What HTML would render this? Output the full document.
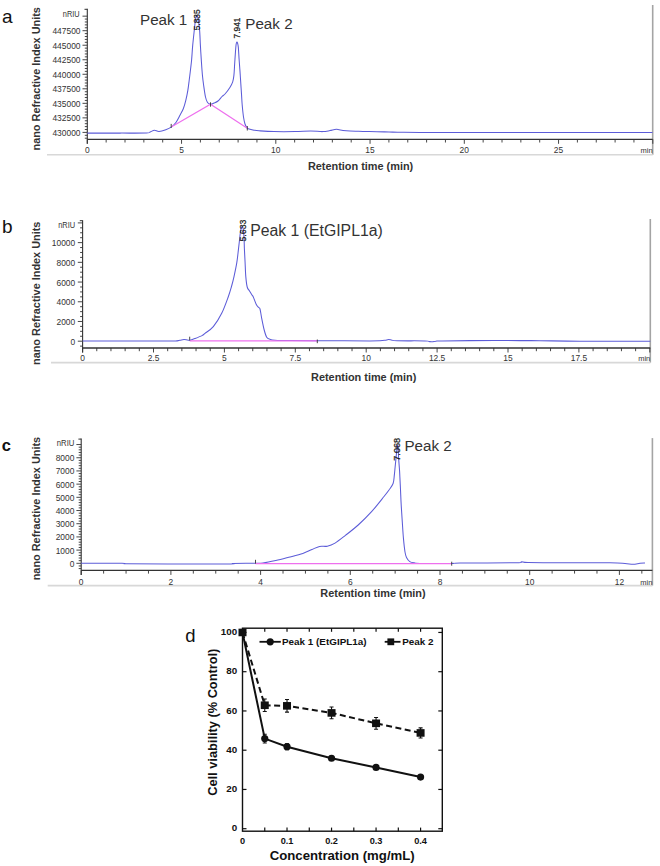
<!DOCTYPE html>
<html><head><meta charset="utf-8"><style>
html,body{margin:0;padding:0;background:#fff;}
svg{display:block;}
text{font-family:"Liberation Sans", sans-serif;}
</style></head><body>
<svg width="660" height="866" viewBox="0 0 660 866">
<rect width="660" height="866" fill="#fff"/>
<line x1="652.7" y1="5" x2="652.7" y2="154.8" stroke="#a4a4a4" stroke-width="1.6"/>
<line x1="47" y1="154.8" x2="652.7" y2="154.8" stroke="#d8d8d8" stroke-width="1.6"/>
<line x1="87.3" y1="8.8" x2="87.3" y2="143.8" stroke="#333" stroke-width="1.1"/>
<line x1="84.5" y1="9.3" x2="87.3" y2="9.3" stroke="#333" stroke-width="1"/>
<line x1="84.8" y1="138.21" x2="87.3" y2="138.21" stroke="#333" stroke-width="0.9"/>
<line x1="84.8" y1="135.31" x2="87.3" y2="135.31" stroke="#333" stroke-width="0.9"/>
<line x1="82.5" y1="132.4" x2="87.3" y2="132.4" stroke="#333" stroke-width="0.9"/>
<line x1="84.8" y1="129.49" x2="87.3" y2="129.49" stroke="#333" stroke-width="0.9"/>
<line x1="84.8" y1="126.59" x2="87.3" y2="126.59" stroke="#333" stroke-width="0.9"/>
<line x1="84.8" y1="123.68" x2="87.3" y2="123.68" stroke="#333" stroke-width="0.9"/>
<line x1="84.8" y1="120.78" x2="87.3" y2="120.78" stroke="#333" stroke-width="0.9"/>
<line x1="82.5" y1="117.87" x2="87.3" y2="117.87" stroke="#333" stroke-width="0.9"/>
<line x1="84.8" y1="114.96" x2="87.3" y2="114.96" stroke="#333" stroke-width="0.9"/>
<line x1="84.8" y1="112.06" x2="87.3" y2="112.06" stroke="#333" stroke-width="0.9"/>
<line x1="84.8" y1="109.15" x2="87.3" y2="109.15" stroke="#333" stroke-width="0.9"/>
<line x1="84.8" y1="106.25" x2="87.3" y2="106.25" stroke="#333" stroke-width="0.9"/>
<line x1="82.5" y1="103.34" x2="87.3" y2="103.34" stroke="#333" stroke-width="0.9"/>
<line x1="84.8" y1="100.43" x2="87.3" y2="100.43" stroke="#333" stroke-width="0.9"/>
<line x1="84.8" y1="97.53" x2="87.3" y2="97.53" stroke="#333" stroke-width="0.9"/>
<line x1="84.8" y1="94.62" x2="87.3" y2="94.62" stroke="#333" stroke-width="0.9"/>
<line x1="84.8" y1="91.72" x2="87.3" y2="91.72" stroke="#333" stroke-width="0.9"/>
<line x1="82.5" y1="88.81" x2="87.3" y2="88.81" stroke="#333" stroke-width="0.9"/>
<line x1="84.8" y1="85.9" x2="87.3" y2="85.9" stroke="#333" stroke-width="0.9"/>
<line x1="84.8" y1="83" x2="87.3" y2="83" stroke="#333" stroke-width="0.9"/>
<line x1="84.8" y1="80.09" x2="87.3" y2="80.09" stroke="#333" stroke-width="0.9"/>
<line x1="84.8" y1="77.19" x2="87.3" y2="77.19" stroke="#333" stroke-width="0.9"/>
<line x1="82.5" y1="74.28" x2="87.3" y2="74.28" stroke="#333" stroke-width="0.9"/>
<line x1="84.8" y1="71.37" x2="87.3" y2="71.37" stroke="#333" stroke-width="0.9"/>
<line x1="84.8" y1="68.47" x2="87.3" y2="68.47" stroke="#333" stroke-width="0.9"/>
<line x1="84.8" y1="65.56" x2="87.3" y2="65.56" stroke="#333" stroke-width="0.9"/>
<line x1="84.8" y1="62.66" x2="87.3" y2="62.66" stroke="#333" stroke-width="0.9"/>
<line x1="82.5" y1="59.75" x2="87.3" y2="59.75" stroke="#333" stroke-width="0.9"/>
<line x1="84.8" y1="56.84" x2="87.3" y2="56.84" stroke="#333" stroke-width="0.9"/>
<line x1="84.8" y1="53.94" x2="87.3" y2="53.94" stroke="#333" stroke-width="0.9"/>
<line x1="84.8" y1="51.03" x2="87.3" y2="51.03" stroke="#333" stroke-width="0.9"/>
<line x1="84.8" y1="48.13" x2="87.3" y2="48.13" stroke="#333" stroke-width="0.9"/>
<line x1="82.5" y1="45.22" x2="87.3" y2="45.22" stroke="#333" stroke-width="0.9"/>
<line x1="84.8" y1="42.31" x2="87.3" y2="42.31" stroke="#333" stroke-width="0.9"/>
<line x1="84.8" y1="39.41" x2="87.3" y2="39.41" stroke="#333" stroke-width="0.9"/>
<line x1="84.8" y1="36.5" x2="87.3" y2="36.5" stroke="#333" stroke-width="0.9"/>
<line x1="84.8" y1="33.6" x2="87.3" y2="33.6" stroke="#333" stroke-width="0.9"/>
<line x1="82.5" y1="30.69" x2="87.3" y2="30.69" stroke="#333" stroke-width="0.9"/>
<line x1="84.8" y1="27.78" x2="87.3" y2="27.78" stroke="#333" stroke-width="0.9"/>
<line x1="84.8" y1="24.88" x2="87.3" y2="24.88" stroke="#333" stroke-width="0.9"/>
<line x1="84.8" y1="21.97" x2="87.3" y2="21.97" stroke="#333" stroke-width="0.9"/>
<line x1="84.8" y1="19.07" x2="87.3" y2="19.07" stroke="#333" stroke-width="0.9"/>
<line x1="82.5" y1="16.16" x2="87.3" y2="16.16" stroke="#333" stroke-width="0.9"/>
<text transform="translate(80.5,135.9) scale(0.86,1)" text-anchor="end" font-size="9.8" fill="#333">430000</text>
<text transform="translate(80.5,121.37) scale(0.86,1)" text-anchor="end" font-size="9.8" fill="#333">432500</text>
<text transform="translate(80.5,106.84) scale(0.86,1)" text-anchor="end" font-size="9.8" fill="#333">435000</text>
<text transform="translate(80.5,92.31) scale(0.86,1)" text-anchor="end" font-size="9.8" fill="#333">437500</text>
<text transform="translate(80.5,77.78) scale(0.86,1)" text-anchor="end" font-size="9.8" fill="#333">440000</text>
<text transform="translate(80.5,63.25) scale(0.86,1)" text-anchor="end" font-size="9.8" fill="#333">442500</text>
<text transform="translate(80.5,48.72) scale(0.86,1)" text-anchor="end" font-size="9.8" fill="#333">445000</text>
<text transform="translate(80.5,34.19) scale(0.86,1)" text-anchor="end" font-size="9.8" fill="#333">447500</text>
<text x="79.6" y="16.6" text-anchor="end" font-size="8.6" fill="#333" textLength="16.8" lengthAdjust="spacingAndGlyphs">nRIU</text>
<line x1="87.3" y1="139.3" x2="652.7" y2="139.3" stroke="#333" stroke-width="1.3"/>
<line x1="87.3" y1="139.3" x2="87.3" y2="143.8" stroke="#333" stroke-width="0.9"/>
<line x1="106.15" y1="139.3" x2="106.15" y2="142.5" stroke="#333" stroke-width="0.9"/>
<line x1="125" y1="139.3" x2="125" y2="142.5" stroke="#333" stroke-width="0.9"/>
<line x1="143.85" y1="139.3" x2="143.85" y2="142.5" stroke="#333" stroke-width="0.9"/>
<line x1="162.7" y1="139.3" x2="162.7" y2="142.5" stroke="#333" stroke-width="0.9"/>
<line x1="181.55" y1="139.3" x2="181.55" y2="143.8" stroke="#333" stroke-width="0.9"/>
<line x1="200.4" y1="139.3" x2="200.4" y2="142.5" stroke="#333" stroke-width="0.9"/>
<line x1="219.25" y1="139.3" x2="219.25" y2="142.5" stroke="#333" stroke-width="0.9"/>
<line x1="238.1" y1="139.3" x2="238.1" y2="142.5" stroke="#333" stroke-width="0.9"/>
<line x1="256.95" y1="139.3" x2="256.95" y2="142.5" stroke="#333" stroke-width="0.9"/>
<line x1="275.8" y1="139.3" x2="275.8" y2="143.8" stroke="#333" stroke-width="0.9"/>
<line x1="294.65" y1="139.3" x2="294.65" y2="142.5" stroke="#333" stroke-width="0.9"/>
<line x1="313.5" y1="139.3" x2="313.5" y2="142.5" stroke="#333" stroke-width="0.9"/>
<line x1="332.35" y1="139.3" x2="332.35" y2="142.5" stroke="#333" stroke-width="0.9"/>
<line x1="351.2" y1="139.3" x2="351.2" y2="142.5" stroke="#333" stroke-width="0.9"/>
<line x1="370.05" y1="139.3" x2="370.05" y2="143.8" stroke="#333" stroke-width="0.9"/>
<line x1="388.9" y1="139.3" x2="388.9" y2="142.5" stroke="#333" stroke-width="0.9"/>
<line x1="407.75" y1="139.3" x2="407.75" y2="142.5" stroke="#333" stroke-width="0.9"/>
<line x1="426.6" y1="139.3" x2="426.6" y2="142.5" stroke="#333" stroke-width="0.9"/>
<line x1="445.45" y1="139.3" x2="445.45" y2="142.5" stroke="#333" stroke-width="0.9"/>
<line x1="464.3" y1="139.3" x2="464.3" y2="143.8" stroke="#333" stroke-width="0.9"/>
<line x1="483.15" y1="139.3" x2="483.15" y2="142.5" stroke="#333" stroke-width="0.9"/>
<line x1="502" y1="139.3" x2="502" y2="142.5" stroke="#333" stroke-width="0.9"/>
<line x1="520.85" y1="139.3" x2="520.85" y2="142.5" stroke="#333" stroke-width="0.9"/>
<line x1="539.7" y1="139.3" x2="539.7" y2="142.5" stroke="#333" stroke-width="0.9"/>
<line x1="558.55" y1="139.3" x2="558.55" y2="143.8" stroke="#333" stroke-width="0.9"/>
<line x1="577.4" y1="139.3" x2="577.4" y2="142.5" stroke="#333" stroke-width="0.9"/>
<line x1="596.25" y1="139.3" x2="596.25" y2="142.5" stroke="#333" stroke-width="0.9"/>
<line x1="615.1" y1="139.3" x2="615.1" y2="142.5" stroke="#333" stroke-width="0.9"/>
<line x1="633.95" y1="139.3" x2="633.95" y2="142.5" stroke="#333" stroke-width="0.9"/>
<line x1="652.8" y1="139.3" x2="652.8" y2="143.8" stroke="#333" stroke-width="0.9"/>
<text transform="translate(87.3,152.8) scale(0.86,1)" text-anchor="middle" font-size="9.8" fill="#333">0</text>
<text transform="translate(181.55,152.8) scale(0.86,1)" text-anchor="middle" font-size="9.8" fill="#333">5</text>
<text transform="translate(275.8,152.8) scale(0.86,1)" text-anchor="middle" font-size="9.8" fill="#333">10</text>
<text transform="translate(370.05,152.8) scale(0.86,1)" text-anchor="middle" font-size="9.8" fill="#333">15</text>
<text transform="translate(464.3,152.8) scale(0.86,1)" text-anchor="middle" font-size="9.8" fill="#333">20</text>
<text transform="translate(558.55,152.8) scale(0.86,1)" text-anchor="middle" font-size="9.8" fill="#333">25</text>
<text x="652.7" y="152.8" text-anchor="end" font-size="7.5" fill="#333">min</text>
<text transform="translate(40.3,78.8) rotate(-90)" text-anchor="middle" font-size="10.9" font-weight="bold" fill="#333">nano Refractive Index Units</text>
<text x="360.6" y="169.8" text-anchor="middle" font-size="10.9" font-weight="bold" fill="#333">Retention time (min)</text>
<text x="2" y="22.5" font-size="19" font-weight="normal" fill="#111">a</text>
<path d="M87.3,133.1 C92.75,133.1 110.13,133.12 120,133.1 C129.87,133.08 141.42,133.22 146.5,133 C151.58,132.78 149.18,132.27 150.5,131.8 C151.82,131.33 152.98,130.27 154.4,130.2 C155.82,130.13 157.1,131.48 159,131.4 C160.9,131.32 163.77,130.42 165.8,129.7 C167.83,128.98 169.48,128.35 171.2,127.1 C172.92,125.85 174.62,124.22 176.1,122.2 C177.58,120.18 178.88,117.28 180.1,115 C181.32,112.72 182.45,110.93 183.4,108.5 C184.35,106.07 185.07,103.37 185.8,100.4 C186.53,97.43 187.23,94.07 187.8,90.7 C188.37,87.33 188.75,83.7 189.2,80.2 C189.65,76.7 190.1,73.07 190.5,69.7 C190.9,66.33 191.23,64.05 191.6,60 C191.97,55.95 192.25,50.38 192.7,45.4 C193.15,40.42 193.85,34.25 194.3,30.1 C194.75,25.95 194.98,22.93 195.4,20.5 C195.82,18.07 196.33,15.67 196.8,15.5 C197.27,15.33 197.73,17.07 198.2,19.5 C198.67,21.93 199.23,25.78 199.6,30.1 C199.97,34.42 200.1,40.15 200.4,45.4 C200.7,50.65 201.07,56.67 201.4,61.6 C201.73,66.53 202.03,71.1 202.4,75 C202.77,78.9 203.08,81.33 203.6,85 C204.12,88.67 204.85,94.08 205.5,97 C206.15,99.92 206.67,101.3 207.5,102.5 C208.33,103.7 209.42,104.12 210.5,104.2 C211.58,104.28 212.75,103.53 214,103 C215.25,102.47 216.67,102.08 218,101 C219.33,99.92 220.83,97.67 222,96.5 C223.17,95.33 223.68,95.5 225,94 C226.32,92.5 228.62,89.52 229.9,87.5 C231.18,85.48 232.03,83.92 232.7,81.9 C233.37,79.88 233.57,78.5 233.9,75.4 C234.23,72.3 234.43,67.33 234.7,63.3 C234.97,59.27 235.27,54.33 235.5,51.2 C235.73,48.07 235.88,46.03 236.1,44.5 C236.32,42.97 236.57,42.25 236.8,42 C237.03,41.75 237.25,42.15 237.5,43 C237.75,43.85 238.03,44.38 238.3,47.1 C238.57,49.82 238.82,55.25 239.1,59.3 C239.38,63.35 239.72,67.37 240,71.4 C240.28,75.43 240.53,79.47 240.8,83.5 C241.07,87.53 241.37,92.02 241.6,95.6 C241.83,99.18 241.88,101.43 242.2,105 C242.52,108.57 243.03,113.83 243.5,117 C243.97,120.17 244.37,122.13 245,124 C245.63,125.87 246.47,127.32 247.3,128.2 C248.13,129.08 248.88,128.97 250,129.3 C251.12,129.63 252.5,129.95 254,130.2 C255.5,130.45 255.67,130.57 259,130.8 C262.33,131.03 268,131.47 274,131.6 C280,131.73 288.9,131.7 295,131.6 C301.1,131.5 305.98,131 310.6,131 C315.22,131 319.47,131.67 322.7,131.6 C325.93,131.53 327.72,130.98 330,130.6 C332.28,130.22 334.23,129.32 336.4,129.3 C338.57,129.28 340.73,130.2 343,130.5 C345.27,130.8 346.67,130.95 350,131.1 C353.33,131.25 358.5,131.3 363,131.4 C367.5,131.5 372.67,131.6 377,131.7 C381.33,131.8 384.92,131.9 389,132 C393.08,132.1 396.33,132.23 401.5,132.3 C406.67,132.37 403.58,132.38 420,132.4 C436.42,132.42 461.25,132.4 500,132.4 C538.75,132.4 627.08,132.4 652.5,132.4" fill="none" stroke="#5c5cd8" stroke-width="1.05" stroke-linejoin="round"/>
<polyline points="171.2,127.1 210.5,104.3 247.3,128.3" fill="none" stroke="#ee70ee" stroke-width="1.2"/>
<line x1="171.2" y1="123.9" x2="171.2" y2="127.9" stroke="#333" stroke-width="0.9"/>
<line x1="210.5" y1="102.3" x2="210.5" y2="106.7" stroke="#333" stroke-width="0.9"/>
<line x1="247.3" y1="126" x2="247.3" y2="130.5" stroke="#333" stroke-width="0.9"/>
<text transform="translate(199.6,30.3) rotate(-90)" font-size="8.4" fill="#1a1a1a" stroke="#1a1a1a" stroke-width="0.25">5.835</text>
<text transform="translate(240.2,38.5) rotate(-90)" font-size="8.4" fill="#1a1a1a" stroke="#1a1a1a" stroke-width="0.25">7.941</text>
<text x="140" y="25" font-size="15.2" fill="#333">Peak 1</text>
<text x="245.3" y="29" font-size="15.2" fill="#333">Peak 2</text>
<line x1="650.3" y1="219" x2="650.3" y2="362.6" stroke="#a4a4a4" stroke-width="1.6"/>
<line x1="51" y1="362.6" x2="650.3" y2="362.6" stroke="#d8d8d8" stroke-width="1.6"/>
<line x1="82.6" y1="220.2" x2="82.6" y2="352.5" stroke="#333" stroke-width="1.1"/>
<line x1="79.8" y1="220.7" x2="82.6" y2="220.7" stroke="#333" stroke-width="1"/>
<line x1="80.1" y1="346.13" x2="82.6" y2="346.13" stroke="#333" stroke-width="0.9"/>
<line x1="77.8" y1="341.2" x2="82.6" y2="341.2" stroke="#333" stroke-width="0.9"/>
<line x1="80.1" y1="336.27" x2="82.6" y2="336.27" stroke="#333" stroke-width="0.9"/>
<line x1="80.1" y1="331.34" x2="82.6" y2="331.34" stroke="#333" stroke-width="0.9"/>
<line x1="80.1" y1="326.41" x2="82.6" y2="326.41" stroke="#333" stroke-width="0.9"/>
<line x1="77.8" y1="321.48" x2="82.6" y2="321.48" stroke="#333" stroke-width="0.9"/>
<line x1="80.1" y1="316.56" x2="82.6" y2="316.56" stroke="#333" stroke-width="0.9"/>
<line x1="80.1" y1="311.63" x2="82.6" y2="311.63" stroke="#333" stroke-width="0.9"/>
<line x1="80.1" y1="306.7" x2="82.6" y2="306.7" stroke="#333" stroke-width="0.9"/>
<line x1="77.8" y1="301.77" x2="82.6" y2="301.77" stroke="#333" stroke-width="0.9"/>
<line x1="80.1" y1="296.84" x2="82.6" y2="296.84" stroke="#333" stroke-width="0.9"/>
<line x1="80.1" y1="291.91" x2="82.6" y2="291.91" stroke="#333" stroke-width="0.9"/>
<line x1="80.1" y1="286.98" x2="82.6" y2="286.98" stroke="#333" stroke-width="0.9"/>
<line x1="77.8" y1="282.05" x2="82.6" y2="282.05" stroke="#333" stroke-width="0.9"/>
<line x1="80.1" y1="277.12" x2="82.6" y2="277.12" stroke="#333" stroke-width="0.9"/>
<line x1="80.1" y1="272.19" x2="82.6" y2="272.19" stroke="#333" stroke-width="0.9"/>
<line x1="80.1" y1="267.26" x2="82.6" y2="267.26" stroke="#333" stroke-width="0.9"/>
<line x1="77.8" y1="262.34" x2="82.6" y2="262.34" stroke="#333" stroke-width="0.9"/>
<line x1="80.1" y1="257.41" x2="82.6" y2="257.41" stroke="#333" stroke-width="0.9"/>
<line x1="80.1" y1="252.48" x2="82.6" y2="252.48" stroke="#333" stroke-width="0.9"/>
<line x1="80.1" y1="247.55" x2="82.6" y2="247.55" stroke="#333" stroke-width="0.9"/>
<line x1="77.8" y1="242.62" x2="82.6" y2="242.62" stroke="#333" stroke-width="0.9"/>
<line x1="80.1" y1="237.69" x2="82.6" y2="237.69" stroke="#333" stroke-width="0.9"/>
<line x1="80.1" y1="232.76" x2="82.6" y2="232.76" stroke="#333" stroke-width="0.9"/>
<line x1="80.1" y1="227.83" x2="82.6" y2="227.83" stroke="#333" stroke-width="0.9"/>
<line x1="77.8" y1="222.9" x2="82.6" y2="222.9" stroke="#333" stroke-width="0.9"/>
<text transform="translate(75.2,344.7) scale(0.86,1)" text-anchor="end" font-size="9.8" fill="#333">0</text>
<text transform="translate(75.2,324.98) scale(0.86,1)" text-anchor="end" font-size="9.8" fill="#333">2000</text>
<text transform="translate(75.2,305.27) scale(0.86,1)" text-anchor="end" font-size="9.8" fill="#333">4000</text>
<text transform="translate(75.2,285.55) scale(0.86,1)" text-anchor="end" font-size="9.8" fill="#333">6000</text>
<text transform="translate(75.2,265.84) scale(0.86,1)" text-anchor="end" font-size="9.8" fill="#333">8000</text>
<text transform="translate(75.2,246.12) scale(0.86,1)" text-anchor="end" font-size="9.8" fill="#333">10000</text>
<text x="75.2" y="227.9" text-anchor="end" font-size="8.6" fill="#333" textLength="17" lengthAdjust="spacingAndGlyphs">nRIU</text>
<line x1="82.6" y1="348" x2="650.3" y2="348" stroke="#333" stroke-width="1.3"/>
<line x1="82.6" y1="348" x2="82.6" y2="352.5" stroke="#333" stroke-width="0.9"/>
<line x1="96.78" y1="348" x2="96.78" y2="351.2" stroke="#333" stroke-width="0.9"/>
<line x1="110.96" y1="348" x2="110.96" y2="351.2" stroke="#333" stroke-width="0.9"/>
<line x1="125.14" y1="348" x2="125.14" y2="351.2" stroke="#333" stroke-width="0.9"/>
<line x1="139.32" y1="348" x2="139.32" y2="351.2" stroke="#333" stroke-width="0.9"/>
<line x1="153.5" y1="348" x2="153.5" y2="352.5" stroke="#333" stroke-width="0.9"/>
<line x1="167.68" y1="348" x2="167.68" y2="351.2" stroke="#333" stroke-width="0.9"/>
<line x1="181.86" y1="348" x2="181.86" y2="351.2" stroke="#333" stroke-width="0.9"/>
<line x1="196.04" y1="348" x2="196.04" y2="351.2" stroke="#333" stroke-width="0.9"/>
<line x1="210.22" y1="348" x2="210.22" y2="351.2" stroke="#333" stroke-width="0.9"/>
<line x1="224.4" y1="348" x2="224.4" y2="352.5" stroke="#333" stroke-width="0.9"/>
<line x1="238.58" y1="348" x2="238.58" y2="351.2" stroke="#333" stroke-width="0.9"/>
<line x1="252.76" y1="348" x2="252.76" y2="351.2" stroke="#333" stroke-width="0.9"/>
<line x1="266.94" y1="348" x2="266.94" y2="351.2" stroke="#333" stroke-width="0.9"/>
<line x1="281.12" y1="348" x2="281.12" y2="351.2" stroke="#333" stroke-width="0.9"/>
<line x1="295.3" y1="348" x2="295.3" y2="352.5" stroke="#333" stroke-width="0.9"/>
<line x1="309.48" y1="348" x2="309.48" y2="351.2" stroke="#333" stroke-width="0.9"/>
<line x1="323.66" y1="348" x2="323.66" y2="351.2" stroke="#333" stroke-width="0.9"/>
<line x1="337.84" y1="348" x2="337.84" y2="351.2" stroke="#333" stroke-width="0.9"/>
<line x1="352.02" y1="348" x2="352.02" y2="351.2" stroke="#333" stroke-width="0.9"/>
<line x1="366.2" y1="348" x2="366.2" y2="352.5" stroke="#333" stroke-width="0.9"/>
<line x1="380.38" y1="348" x2="380.38" y2="351.2" stroke="#333" stroke-width="0.9"/>
<line x1="394.56" y1="348" x2="394.56" y2="351.2" stroke="#333" stroke-width="0.9"/>
<line x1="408.74" y1="348" x2="408.74" y2="351.2" stroke="#333" stroke-width="0.9"/>
<line x1="422.92" y1="348" x2="422.92" y2="351.2" stroke="#333" stroke-width="0.9"/>
<line x1="437.1" y1="348" x2="437.1" y2="352.5" stroke="#333" stroke-width="0.9"/>
<line x1="451.28" y1="348" x2="451.28" y2="351.2" stroke="#333" stroke-width="0.9"/>
<line x1="465.46" y1="348" x2="465.46" y2="351.2" stroke="#333" stroke-width="0.9"/>
<line x1="479.64" y1="348" x2="479.64" y2="351.2" stroke="#333" stroke-width="0.9"/>
<line x1="493.82" y1="348" x2="493.82" y2="351.2" stroke="#333" stroke-width="0.9"/>
<line x1="508" y1="348" x2="508" y2="352.5" stroke="#333" stroke-width="0.9"/>
<line x1="522.18" y1="348" x2="522.18" y2="351.2" stroke="#333" stroke-width="0.9"/>
<line x1="536.36" y1="348" x2="536.36" y2="351.2" stroke="#333" stroke-width="0.9"/>
<line x1="550.54" y1="348" x2="550.54" y2="351.2" stroke="#333" stroke-width="0.9"/>
<line x1="564.72" y1="348" x2="564.72" y2="351.2" stroke="#333" stroke-width="0.9"/>
<line x1="578.9" y1="348" x2="578.9" y2="352.5" stroke="#333" stroke-width="0.9"/>
<line x1="593.08" y1="348" x2="593.08" y2="351.2" stroke="#333" stroke-width="0.9"/>
<line x1="607.26" y1="348" x2="607.26" y2="351.2" stroke="#333" stroke-width="0.9"/>
<line x1="621.44" y1="348" x2="621.44" y2="351.2" stroke="#333" stroke-width="0.9"/>
<line x1="635.62" y1="348" x2="635.62" y2="351.2" stroke="#333" stroke-width="0.9"/>
<line x1="649.8" y1="348" x2="649.8" y2="352.5" stroke="#333" stroke-width="0.9"/>
<text transform="translate(82.6,361) scale(0.86,1)" text-anchor="middle" font-size="9.8" fill="#333">0</text>
<text transform="translate(153.5,361) scale(0.86,1)" text-anchor="middle" font-size="9.8" fill="#333">2.5</text>
<text transform="translate(224.4,361) scale(0.86,1)" text-anchor="middle" font-size="9.8" fill="#333">5</text>
<text transform="translate(295.3,361) scale(0.86,1)" text-anchor="middle" font-size="9.8" fill="#333">7.5</text>
<text transform="translate(366.2,361) scale(0.86,1)" text-anchor="middle" font-size="9.8" fill="#333">10</text>
<text transform="translate(437.1,361) scale(0.86,1)" text-anchor="middle" font-size="9.8" fill="#333">12.5</text>
<text transform="translate(508,361) scale(0.86,1)" text-anchor="middle" font-size="9.8" fill="#333">15</text>
<text transform="translate(578.9,361) scale(0.86,1)" text-anchor="middle" font-size="9.8" fill="#333">17.5</text>
<text x="650.3" y="361" text-anchor="end" font-size="7.5" fill="#333">min</text>
<text transform="translate(39.8,293.3) rotate(-90)" text-anchor="middle" font-size="10.9" font-weight="bold" fill="#333">nano Refractive Index Units</text>
<text x="363.7" y="380.5" text-anchor="middle" font-size="10.9" font-weight="bold" fill="#333">Retention time (min)</text>
<text x="2" y="232.7" font-size="19" font-weight="normal" fill="#111">b</text>
<path d="M82.6,341 C97.17,341 154.5,341.02 170,341 C185.5,340.98 173.93,341.03 175.6,340.9 C177.27,340.77 178.6,340.43 180,340.2 C181.4,339.97 182.75,339.53 184,339.5 C185.25,339.47 186.5,339.88 187.5,340 C188.5,340.12 188.8,340.43 190,340.2 C191.2,339.97 192.7,339.37 194.7,338.6 C196.7,337.83 200.28,336.47 202,335.6 C203.72,334.73 203.12,334.88 205,333.4 C206.88,331.92 210.52,330.05 213.3,326.7 C216.08,323.35 219.2,318.3 221.7,313.3 C224.2,308.3 226.67,301.17 228.3,296.7 C229.93,292.23 230.55,289.85 231.5,286.5 C232.45,283.15 233.12,280.57 234,276.6 C234.88,272.63 236.05,267.32 236.8,262.7 C237.55,258.08 238.03,252.82 238.5,248.9 C238.97,244.98 239.25,242.18 239.6,239.2 C239.95,236.22 240.2,233.07 240.6,231 C241,228.93 241.53,226.97 242,226.8 C242.47,226.63 243.05,227.93 243.4,230 C243.75,232.07 243.93,236.05 244.1,239.2 C244.27,242.35 244.23,244.98 244.4,248.9 C244.57,252.82 244.87,258.08 245.1,262.7 C245.33,267.32 245.45,272.55 245.8,276.6 C246.15,280.65 246.58,284.6 247.2,287 C247.82,289.4 248.7,289.67 249.5,291 C250.3,292.33 251.37,294 252,295 C252.63,296 252.58,295.42 253.3,297 C254.02,298.58 255.43,302.75 256.3,304.5 C257.17,306.25 257.88,306.75 258.5,307.5 C259.12,308.25 259.47,307.2 260,309 C260.53,310.8 261,314.8 261.7,318.3 C262.4,321.8 263.37,326.85 264.2,330 C265.03,333.15 265.73,335.65 266.7,337.2 C267.67,338.75 268.62,338.8 270,339.3 C271.38,339.8 271.67,339.98 275,340.2 C278.33,340.42 280.83,340.5 290,340.6 C299.17,340.7 316.67,340.75 330,340.8 C343.33,340.85 361.67,340.9 370,340.9 C378.33,340.9 377.5,340.9 380,340.8 C382.5,340.7 383.57,340.52 385,340.3 C386.43,340.08 387.43,339.52 388.6,339.5 C389.77,339.48 390.6,339.98 392,340.2 C393.4,340.42 391.5,340.68 397,340.8 C402.5,340.92 419.67,340.78 425,340.9 C430.33,341.02 427.8,341.35 429,341.5 C430.2,341.65 431.03,341.85 432.2,341.8 C433.37,341.75 434.37,341.35 436,341.2 C437.63,341.05 436.33,341 442,340.9 C447.67,340.8 457,340.65 470,340.6 C483,340.55 508.33,340.58 520,340.6 C531.67,340.62 530,340.6 540,340.7 C550,340.8 561.62,341.1 580,341.2 C598.38,341.3 638.58,341.28 650.3,341.3" fill="none" stroke="#5c5cd8" stroke-width="1.05" stroke-linejoin="round"/>
<polyline points="189.7,340.8 317.3,340.8" fill="none" stroke="#ee70ee" stroke-width="1.2"/>
<line x1="189.7" y1="336.7" x2="189.7" y2="340.5" stroke="#333" stroke-width="0.9"/>
<line x1="317.3" y1="339.5" x2="317.3" y2="343.2" stroke="#333" stroke-width="0.9"/>
<text transform="translate(246.3,241.6) rotate(-90)" font-size="8.8" fill="#1a1a1a" stroke="#1a1a1a" stroke-width="0.25">5.633</text>
<text x="250.2" y="235.6" font-size="15.8" fill="#333">Peak 1 (EtGIPL1a)</text>
<line x1="652.4" y1="438.1" x2="652.4" y2="585.6" stroke="#a4a4a4" stroke-width="1.6"/>
<line x1="47.7" y1="585.6" x2="652.4" y2="585.6" stroke="#d8d8d8" stroke-width="1.6"/>
<line x1="81.2" y1="438.6" x2="81.2" y2="574.9" stroke="#333" stroke-width="1.1"/>
<line x1="78.4" y1="439.1" x2="81.2" y2="439.1" stroke="#333" stroke-width="1"/>
<line x1="78.7" y1="568.58" x2="81.2" y2="568.58" stroke="#333" stroke-width="0.9"/>
<line x1="78.7" y1="565.94" x2="81.2" y2="565.94" stroke="#333" stroke-width="0.9"/>
<line x1="76.4" y1="563.3" x2="81.2" y2="563.3" stroke="#333" stroke-width="0.9"/>
<line x1="78.7" y1="560.66" x2="81.2" y2="560.66" stroke="#333" stroke-width="0.9"/>
<line x1="78.7" y1="558.02" x2="81.2" y2="558.02" stroke="#333" stroke-width="0.9"/>
<line x1="78.7" y1="555.38" x2="81.2" y2="555.38" stroke="#333" stroke-width="0.9"/>
<line x1="78.7" y1="552.74" x2="81.2" y2="552.74" stroke="#333" stroke-width="0.9"/>
<line x1="76.4" y1="550.1" x2="81.2" y2="550.1" stroke="#333" stroke-width="0.9"/>
<line x1="78.7" y1="547.47" x2="81.2" y2="547.47" stroke="#333" stroke-width="0.9"/>
<line x1="78.7" y1="544.83" x2="81.2" y2="544.83" stroke="#333" stroke-width="0.9"/>
<line x1="78.7" y1="542.19" x2="81.2" y2="542.19" stroke="#333" stroke-width="0.9"/>
<line x1="78.7" y1="539.55" x2="81.2" y2="539.55" stroke="#333" stroke-width="0.9"/>
<line x1="76.4" y1="536.91" x2="81.2" y2="536.91" stroke="#333" stroke-width="0.9"/>
<line x1="78.7" y1="534.27" x2="81.2" y2="534.27" stroke="#333" stroke-width="0.9"/>
<line x1="78.7" y1="531.63" x2="81.2" y2="531.63" stroke="#333" stroke-width="0.9"/>
<line x1="78.7" y1="528.99" x2="81.2" y2="528.99" stroke="#333" stroke-width="0.9"/>
<line x1="78.7" y1="526.35" x2="81.2" y2="526.35" stroke="#333" stroke-width="0.9"/>
<line x1="76.4" y1="523.71" x2="81.2" y2="523.71" stroke="#333" stroke-width="0.9"/>
<line x1="78.7" y1="521.08" x2="81.2" y2="521.08" stroke="#333" stroke-width="0.9"/>
<line x1="78.7" y1="518.44" x2="81.2" y2="518.44" stroke="#333" stroke-width="0.9"/>
<line x1="78.7" y1="515.8" x2="81.2" y2="515.8" stroke="#333" stroke-width="0.9"/>
<line x1="78.7" y1="513.16" x2="81.2" y2="513.16" stroke="#333" stroke-width="0.9"/>
<line x1="76.4" y1="510.52" x2="81.2" y2="510.52" stroke="#333" stroke-width="0.9"/>
<line x1="78.7" y1="507.88" x2="81.2" y2="507.88" stroke="#333" stroke-width="0.9"/>
<line x1="78.7" y1="505.24" x2="81.2" y2="505.24" stroke="#333" stroke-width="0.9"/>
<line x1="78.7" y1="502.6" x2="81.2" y2="502.6" stroke="#333" stroke-width="0.9"/>
<line x1="78.7" y1="499.96" x2="81.2" y2="499.96" stroke="#333" stroke-width="0.9"/>
<line x1="76.4" y1="497.32" x2="81.2" y2="497.32" stroke="#333" stroke-width="0.9"/>
<line x1="78.7" y1="494.69" x2="81.2" y2="494.69" stroke="#333" stroke-width="0.9"/>
<line x1="78.7" y1="492.05" x2="81.2" y2="492.05" stroke="#333" stroke-width="0.9"/>
<line x1="78.7" y1="489.41" x2="81.2" y2="489.41" stroke="#333" stroke-width="0.9"/>
<line x1="78.7" y1="486.77" x2="81.2" y2="486.77" stroke="#333" stroke-width="0.9"/>
<line x1="76.4" y1="484.13" x2="81.2" y2="484.13" stroke="#333" stroke-width="0.9"/>
<line x1="78.7" y1="481.49" x2="81.2" y2="481.49" stroke="#333" stroke-width="0.9"/>
<line x1="78.7" y1="478.85" x2="81.2" y2="478.85" stroke="#333" stroke-width="0.9"/>
<line x1="78.7" y1="476.21" x2="81.2" y2="476.21" stroke="#333" stroke-width="0.9"/>
<line x1="78.7" y1="473.57" x2="81.2" y2="473.57" stroke="#333" stroke-width="0.9"/>
<line x1="76.4" y1="470.93" x2="81.2" y2="470.93" stroke="#333" stroke-width="0.9"/>
<line x1="78.7" y1="468.3" x2="81.2" y2="468.3" stroke="#333" stroke-width="0.9"/>
<line x1="78.7" y1="465.66" x2="81.2" y2="465.66" stroke="#333" stroke-width="0.9"/>
<line x1="78.7" y1="463.02" x2="81.2" y2="463.02" stroke="#333" stroke-width="0.9"/>
<line x1="78.7" y1="460.38" x2="81.2" y2="460.38" stroke="#333" stroke-width="0.9"/>
<line x1="76.4" y1="457.74" x2="81.2" y2="457.74" stroke="#333" stroke-width="0.9"/>
<line x1="78.7" y1="455.1" x2="81.2" y2="455.1" stroke="#333" stroke-width="0.9"/>
<line x1="78.7" y1="452.46" x2="81.2" y2="452.46" stroke="#333" stroke-width="0.9"/>
<line x1="78.7" y1="449.82" x2="81.2" y2="449.82" stroke="#333" stroke-width="0.9"/>
<line x1="78.7" y1="447.18" x2="81.2" y2="447.18" stroke="#333" stroke-width="0.9"/>
<line x1="76.4" y1="444.54" x2="81.2" y2="444.54" stroke="#333" stroke-width="0.9"/>
<text transform="translate(74.4,566.8) scale(0.86,1)" text-anchor="end" font-size="9.8" fill="#333">0</text>
<text transform="translate(74.4,553.6) scale(0.86,1)" text-anchor="end" font-size="9.8" fill="#333">1000</text>
<text transform="translate(74.4,540.41) scale(0.86,1)" text-anchor="end" font-size="9.8" fill="#333">2000</text>
<text transform="translate(74.4,527.21) scale(0.86,1)" text-anchor="end" font-size="9.8" fill="#333">3000</text>
<text transform="translate(74.4,514.02) scale(0.86,1)" text-anchor="end" font-size="9.8" fill="#333">4000</text>
<text transform="translate(74.4,500.82) scale(0.86,1)" text-anchor="end" font-size="9.8" fill="#333">5000</text>
<text transform="translate(74.4,487.63) scale(0.86,1)" text-anchor="end" font-size="9.8" fill="#333">6000</text>
<text transform="translate(74.4,474.43) scale(0.86,1)" text-anchor="end" font-size="9.8" fill="#333">7000</text>
<text transform="translate(74.4,461.24) scale(0.86,1)" text-anchor="end" font-size="9.8" fill="#333">8000</text>
<text x="74.4" y="446.2" text-anchor="end" font-size="8.6" fill="#333" textLength="17.6" lengthAdjust="spacingAndGlyphs">nRIU</text>
<line x1="81.2" y1="570.4" x2="652.4" y2="570.4" stroke="#333" stroke-width="1.3"/>
<line x1="81.2" y1="570.4" x2="81.2" y2="574.9" stroke="#333" stroke-width="0.9"/>
<line x1="103.62" y1="570.4" x2="103.62" y2="573.6" stroke="#333" stroke-width="0.9"/>
<line x1="126.05" y1="570.4" x2="126.05" y2="573.6" stroke="#333" stroke-width="0.9"/>
<line x1="148.48" y1="570.4" x2="148.48" y2="573.6" stroke="#333" stroke-width="0.9"/>
<line x1="170.9" y1="570.4" x2="170.9" y2="574.9" stroke="#333" stroke-width="0.9"/>
<line x1="193.32" y1="570.4" x2="193.32" y2="573.6" stroke="#333" stroke-width="0.9"/>
<line x1="215.75" y1="570.4" x2="215.75" y2="573.6" stroke="#333" stroke-width="0.9"/>
<line x1="238.18" y1="570.4" x2="238.18" y2="573.6" stroke="#333" stroke-width="0.9"/>
<line x1="260.6" y1="570.4" x2="260.6" y2="574.9" stroke="#333" stroke-width="0.9"/>
<line x1="283.03" y1="570.4" x2="283.03" y2="573.6" stroke="#333" stroke-width="0.9"/>
<line x1="305.45" y1="570.4" x2="305.45" y2="573.6" stroke="#333" stroke-width="0.9"/>
<line x1="327.88" y1="570.4" x2="327.88" y2="573.6" stroke="#333" stroke-width="0.9"/>
<line x1="350.3" y1="570.4" x2="350.3" y2="574.9" stroke="#333" stroke-width="0.9"/>
<line x1="372.73" y1="570.4" x2="372.73" y2="573.6" stroke="#333" stroke-width="0.9"/>
<line x1="395.15" y1="570.4" x2="395.15" y2="573.6" stroke="#333" stroke-width="0.9"/>
<line x1="417.57" y1="570.4" x2="417.57" y2="573.6" stroke="#333" stroke-width="0.9"/>
<line x1="440" y1="570.4" x2="440" y2="574.9" stroke="#333" stroke-width="0.9"/>
<line x1="462.43" y1="570.4" x2="462.43" y2="573.6" stroke="#333" stroke-width="0.9"/>
<line x1="484.85" y1="570.4" x2="484.85" y2="573.6" stroke="#333" stroke-width="0.9"/>
<line x1="507.27" y1="570.4" x2="507.27" y2="573.6" stroke="#333" stroke-width="0.9"/>
<line x1="529.7" y1="570.4" x2="529.7" y2="574.9" stroke="#333" stroke-width="0.9"/>
<line x1="552.12" y1="570.4" x2="552.12" y2="573.6" stroke="#333" stroke-width="0.9"/>
<line x1="574.55" y1="570.4" x2="574.55" y2="573.6" stroke="#333" stroke-width="0.9"/>
<line x1="596.98" y1="570.4" x2="596.98" y2="573.6" stroke="#333" stroke-width="0.9"/>
<line x1="619.4" y1="570.4" x2="619.4" y2="574.9" stroke="#333" stroke-width="0.9"/>
<line x1="641.83" y1="570.4" x2="641.83" y2="573.6" stroke="#333" stroke-width="0.9"/>
<text transform="translate(81.2,584.6) scale(0.86,1)" text-anchor="middle" font-size="9.8" fill="#333">0</text>
<text transform="translate(170.9,584.6) scale(0.86,1)" text-anchor="middle" font-size="9.8" fill="#333">2</text>
<text transform="translate(260.6,584.6) scale(0.86,1)" text-anchor="middle" font-size="9.8" fill="#333">4</text>
<text transform="translate(350.3,584.6) scale(0.86,1)" text-anchor="middle" font-size="9.8" fill="#333">6</text>
<text transform="translate(440,584.6) scale(0.86,1)" text-anchor="middle" font-size="9.8" fill="#333">8</text>
<text transform="translate(529.7,584.6) scale(0.86,1)" text-anchor="middle" font-size="9.8" fill="#333">10</text>
<text transform="translate(619.4,584.6) scale(0.86,1)" text-anchor="middle" font-size="9.8" fill="#333">12</text>
<text x="652.4" y="584.6" text-anchor="end" font-size="7.5" fill="#333">min</text>
<text transform="translate(39.7,508.6) rotate(-90)" text-anchor="middle" font-size="10.9" font-weight="bold" fill="#333">nano Refractive Index Units</text>
<text x="373" y="597.4" text-anchor="middle" font-size="10.9" font-weight="bold" fill="#333">Retention time (min)</text>
<text x="1.8" y="451" font-size="16.5" font-weight="bold" fill="#111">c</text>
<path d="M81.2,563.3 C88,563.3 114.37,563.22 122,563.3 C129.63,563.38 119.33,563.7 127,563.8 C134.67,563.9 151,563.87 168,563.9 C185,563.93 218.17,564.08 229,564 C239.83,563.92 229.5,563.52 233,563.4 C236.5,563.28 246.25,563.32 250,563.3 C253.75,563.28 253.35,563.33 255.5,563.3 C257.65,563.27 259.52,563.55 262.9,563.1 C266.28,562.65 271.5,561.57 275.8,560.6 C280.1,559.63 284.2,558.5 288.7,557.3 C293.2,556.1 298.93,554.7 302.8,553.4 C306.67,552.1 309.1,550.67 311.9,549.5 C314.7,548.33 317.03,546.95 319.6,546.4 C322.17,545.85 324.73,546.75 327.3,546.2 C329.87,545.65 331.98,544.9 335,543.1 C338.02,541.3 341.53,538.42 345.4,535.4 C349.27,532.38 353.92,528.87 358.2,525 C362.48,521.13 366.8,516.95 371.1,512.2 C375.4,507.45 381.02,500.2 384,496.5 C386.98,492.8 387.48,492.17 389,490 C390.52,487.83 392.22,485.93 393.1,483.5 C393.98,481.07 393.97,478.1 394.3,475.4 C394.63,472.7 394.83,469.98 395.1,467.3 C395.37,464.62 395.63,461.98 395.9,459.3 C396.17,456.62 396.43,453.5 396.7,451.2 C396.97,448.9 397.27,446.12 397.5,445.5 C397.73,444.88 397.9,445.2 398.1,447.5 C398.3,449.8 398.45,455.32 398.7,459.3 C398.95,463.28 399.32,466.7 399.6,471.4 C399.88,476.1 400.13,481.9 400.4,487.5 C400.67,493.1 400.88,499.25 401.2,505 C401.52,510.75 401.93,516.52 402.3,522 C402.67,527.48 402.95,532.9 403.4,537.9 C403.85,542.9 404.48,548.73 405,552 C405.52,555.27 405.7,555.9 406.5,557.5 C407.3,559.1 408.38,560.68 409.8,561.6 C411.22,562.52 413.3,562.7 415,563 C416.7,563.3 414,563.33 420,563.4 C426,563.47 444.33,563.47 451,563.4 C457.67,563.33 449.33,563.1 460,563 C470.67,562.9 504.72,563 515,562.8 C525.28,562.6 519.53,561.85 521.7,561.8 C523.87,561.75 521.62,562.35 528,562.5 C534.38,562.65 546.33,562.65 560,562.7 C573.67,562.75 599.17,562.67 610,562.8 C620.83,562.93 621.17,563.25 625,563.5 C628.83,563.75 630.5,564.33 633,564.3 C635.5,564.27 638,563.52 640,563.3 C642,563.08 644.17,563.05 645,563" fill="none" stroke="#5c5cd8" stroke-width="1.05" stroke-linejoin="round"/>
<polyline points="255.5,563.6 451.7,563.6" fill="none" stroke="#ee70ee" stroke-width="1.2"/>
<line x1="255.5" y1="559.8" x2="255.5" y2="563.6" stroke="#333" stroke-width="0.9"/>
<line x1="451.7" y1="561.7" x2="451.7" y2="565.7" stroke="#333" stroke-width="0.9"/>
<text transform="translate(400,460.7) rotate(-90)" font-size="9.1" fill="#1a1a1a" stroke="#1a1a1a" stroke-width="0.25">7.068</text>
<text x="404.4" y="451.2" font-size="15.2" fill="#333">Peak 2</text>
<text x="185.3" y="641.7" font-size="18.5" fill="#111">d</text>
<rect x="242.5" y="628.2" width="199.8" height="203" fill="none" stroke="#111" stroke-width="1.4"/>
<line x1="264.76" y1="831.2" x2="264.76" y2="827.6" stroke="#111" stroke-width="1.2"/>
<line x1="264.76" y1="628.2" x2="264.76" y2="631.8" stroke="#111" stroke-width="1.2"/>
<line x1="287.02" y1="831.2" x2="287.02" y2="827.6" stroke="#111" stroke-width="1.2"/>
<line x1="287.02" y1="628.2" x2="287.02" y2="631.8" stroke="#111" stroke-width="1.2"/>
<line x1="309.28" y1="831.2" x2="309.28" y2="827.6" stroke="#111" stroke-width="1.2"/>
<line x1="309.28" y1="628.2" x2="309.28" y2="631.8" stroke="#111" stroke-width="1.2"/>
<line x1="331.54" y1="831.2" x2="331.54" y2="827.6" stroke="#111" stroke-width="1.2"/>
<line x1="331.54" y1="628.2" x2="331.54" y2="631.8" stroke="#111" stroke-width="1.2"/>
<line x1="353.8" y1="831.2" x2="353.8" y2="827.6" stroke="#111" stroke-width="1.2"/>
<line x1="353.8" y1="628.2" x2="353.8" y2="631.8" stroke="#111" stroke-width="1.2"/>
<line x1="376.06" y1="831.2" x2="376.06" y2="827.6" stroke="#111" stroke-width="1.2"/>
<line x1="376.06" y1="628.2" x2="376.06" y2="631.8" stroke="#111" stroke-width="1.2"/>
<line x1="398.32" y1="831.2" x2="398.32" y2="827.6" stroke="#111" stroke-width="1.2"/>
<line x1="398.32" y1="628.2" x2="398.32" y2="631.8" stroke="#111" stroke-width="1.2"/>
<line x1="420.58" y1="831.2" x2="420.58" y2="827.6" stroke="#111" stroke-width="1.2"/>
<line x1="420.58" y1="628.2" x2="420.58" y2="631.8" stroke="#111" stroke-width="1.2"/>
<line x1="242.5" y1="828.7" x2="246.5" y2="828.7" stroke="#111" stroke-width="1.2"/>
<line x1="442.3" y1="828.7" x2="438.3" y2="828.7" stroke="#111" stroke-width="1.2"/>
<text x="237.2" y="831.4" text-anchor="end" font-size="9.8" font-weight="bold" fill="#111">0</text>
<line x1="242.5" y1="789.45" x2="246.5" y2="789.45" stroke="#111" stroke-width="1.2"/>
<line x1="442.3" y1="789.45" x2="438.3" y2="789.45" stroke="#111" stroke-width="1.2"/>
<text x="237.2" y="792.15" text-anchor="end" font-size="9.8" font-weight="bold" fill="#111">20</text>
<line x1="242.5" y1="750.2" x2="246.5" y2="750.2" stroke="#111" stroke-width="1.2"/>
<line x1="442.3" y1="750.2" x2="438.3" y2="750.2" stroke="#111" stroke-width="1.2"/>
<text x="237.2" y="752.9" text-anchor="end" font-size="9.8" font-weight="bold" fill="#111">40</text>
<line x1="242.5" y1="710.95" x2="246.5" y2="710.95" stroke="#111" stroke-width="1.2"/>
<line x1="442.3" y1="710.95" x2="438.3" y2="710.95" stroke="#111" stroke-width="1.2"/>
<text x="237.2" y="713.65" text-anchor="end" font-size="9.8" font-weight="bold" fill="#111">60</text>
<line x1="242.5" y1="671.7" x2="246.5" y2="671.7" stroke="#111" stroke-width="1.2"/>
<line x1="442.3" y1="671.7" x2="438.3" y2="671.7" stroke="#111" stroke-width="1.2"/>
<text x="237.2" y="674.4" text-anchor="end" font-size="9.8" font-weight="bold" fill="#111">80</text>
<line x1="242.5" y1="632.45" x2="246.5" y2="632.45" stroke="#111" stroke-width="1.2"/>
<line x1="442.3" y1="632.45" x2="438.3" y2="632.45" stroke="#111" stroke-width="1.2"/>
<text x="237.2" y="635.15" text-anchor="end" font-size="9.8" font-weight="bold" fill="#111">100</text>
<text x="242.5" y="843.9" text-anchor="middle" font-size="9.2" font-weight="bold" fill="#111">0</text>
<text x="287.02" y="843.9" text-anchor="middle" font-size="9.2" font-weight="bold" fill="#111">0.1</text>
<text x="331.54" y="843.9" text-anchor="middle" font-size="9.2" font-weight="bold" fill="#111">0.2</text>
<text x="376.06" y="843.9" text-anchor="middle" font-size="9.2" font-weight="bold" fill="#111">0.3</text>
<text x="420.58" y="843.9" text-anchor="middle" font-size="9.2" font-weight="bold" fill="#111">0.4</text>
<text x="342.2" y="860.2" text-anchor="middle" font-size="13.2" font-weight="bold" fill="#111">Concentration (mg/mL)</text>
<text transform="translate(217.3,722.2) rotate(-90)" text-anchor="middle" font-size="12.8" font-weight="bold" fill="#111">Cell viability (% Control)</text>
<polyline points="242.5,632.45 264.76,705.26 287.02,705.85 331.54,712.91 376.06,723.31 420.58,732.93" fill="none" stroke="#111" stroke-width="2" stroke-dasharray="6,3.5"/>
<polyline points="242.5,632.45 264.76,738.62 287.02,746.67 331.54,758.25 376.06,767.47 420.58,777.09" fill="none" stroke="#111" stroke-width="2"/>
<rect x="238.5" y="628.65" width="8" height="7.6" fill="#111"/>
<path d="M264.76,698.98V711.54M262.76,698.98h4M262.76,711.54h4" stroke="#111" stroke-width="1.1" fill="none"/>
<rect x="260.76" y="701.46" width="8" height="7.6" fill="#111"/>
<path d="M287.02,699.57V712.13M285.02,699.57h4M285.02,712.13h4" stroke="#111" stroke-width="1.1" fill="none"/>
<rect x="283.02" y="702.05" width="8" height="7.6" fill="#111"/>
<path d="M331.54,707.02V718.8M329.54,707.02h4M329.54,718.8h4" stroke="#111" stroke-width="1.1" fill="none"/>
<rect x="327.54" y="709.11" width="8" height="7.6" fill="#111"/>
<path d="M376.06,717.43V729.2M374.06,717.43h4M374.06,729.2h4" stroke="#111" stroke-width="1.1" fill="none"/>
<rect x="372.06" y="719.51" width="8" height="7.6" fill="#111"/>
<path d="M420.58,727.83V738.03M418.58,727.83h4M418.58,738.03h4" stroke="#111" stroke-width="1.1" fill="none"/>
<rect x="416.58" y="729.13" width="8" height="7.6" fill="#111"/>
<path d="M264.76,734.3V742.94M262.76,734.3h4M262.76,742.94h4" stroke="#111" stroke-width="1.1" fill="none"/>
<circle cx="264.76" cy="738.62" r="3.6" fill="#111"/>
<path d="M287.02,743.72V749.61M285.02,743.72h4M285.02,749.61h4" stroke="#111" stroke-width="1.1" fill="none"/>
<circle cx="287.02" cy="746.67" r="3.6" fill="#111"/>
<path d="M331.54,756.28V760.21M329.54,756.28h4M329.54,760.21h4" stroke="#111" stroke-width="1.1" fill="none"/>
<circle cx="331.54" cy="758.25" r="3.6" fill="#111"/>
<path d="M376.06,765.51V769.43M374.06,765.51h4M374.06,769.43h4" stroke="#111" stroke-width="1.1" fill="none"/>
<circle cx="376.06" cy="767.47" r="3.6" fill="#111"/>
<path d="M420.58,775.52V778.66M418.58,775.52h4M418.58,778.66h4" stroke="#111" stroke-width="1.1" fill="none"/>
<circle cx="420.58" cy="777.09" r="3.6" fill="#111"/>
<line x1="259.5" y1="641.8" x2="280.8" y2="641.8" stroke="#111" stroke-width="1.8"/>
<circle cx="270.2" cy="641.8" r="3.6" fill="#111"/>
<text x="282" y="645" font-size="9.9" font-weight="bold" fill="#111">Peak 1 (EtGIPL1a)</text>
<line x1="384.7" y1="641.8" x2="400.5" y2="641.8" stroke="#111" stroke-width="1.8"/>
<rect x="387.4" y="638.4" width="6.8" height="6.8" fill="#111"/>
<text x="402.2" y="645" font-size="9.9" font-weight="bold" fill="#111">Peak 2</text>
</svg>
</body></html>
